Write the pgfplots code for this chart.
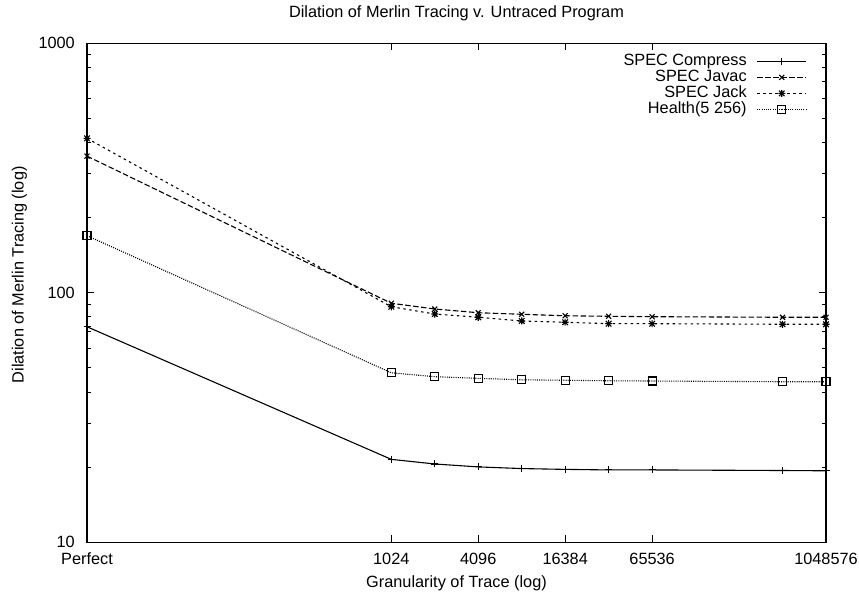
\documentclass[border=0pt]{standalone}
\usepackage{fontspec}
\setmainfont{Liberation Sans}
\usepackage{pgfplots}
\pgfplotsset{compat=1.18}
\pgfdeclareplotmark{gpstar}{%
  \pgfpathmoveto{\pgfqpoint{-\pgfplotmarksize}{0pt}}\pgfpathlineto{\pgfqpoint{\pgfplotmarksize}{0pt}}%
  \pgfpathmoveto{\pgfqpoint{0pt}{-\pgfplotmarksize}}\pgfpathlineto{\pgfqpoint{0pt}{\pgfplotmarksize}}%
  \pgfpathmoveto{\pgfqpoint{-0.8\pgfplotmarksize}{-0.8\pgfplotmarksize}}\pgfpathlineto{\pgfqpoint{0.8\pgfplotmarksize}{0.8\pgfplotmarksize}}%
  \pgfpathmoveto{\pgfqpoint{-0.8\pgfplotmarksize}{0.8\pgfplotmarksize}}\pgfpathlineto{\pgfqpoint{0.8\pgfplotmarksize}{-0.8\pgfplotmarksize}}%
  \pgfusepathqstroke}
\begin{document}
\begin{tikzpicture}[font=\fontsize{16.3}{19.5}\selectfont]
\useasboundingbox (0,0) rectangle (859pt,593pt);
\begin{axis}[
  at={(87pt,50.7pt)}, anchor=south west,
  scale only axis, width=739pt, height=499pt,
  xmode=log, ymode=log,
  xmin=8, xmax=1048576, ymin=10, ymax=1000,
  xtick={8,1024,4096,16384,65536,1048576},
  xticklabels={Perfect,1024,4096,16384,65536,1048576},
  ytick={10,100,1000},
  yticklabels={10,100,1000},
  xminorticks=false,
  /pgf/number format/assume math mode=true,
  axis line style={line width=1.2pt},
  tick style={line width=1pt, black},
  major tick length=7pt, minor tick length=4pt,
  tick align=inside,
  xticklabel style={anchor=base, inner sep=0pt, yshift=-22.7pt},
  yticklabel style={anchor=east, inner sep=0pt, xshift=-12pt},
  title={Dilation of Merlin Tracing v. Untraced Program},
  title style={at={([yshift=19.8pt]axis description cs:0.5,1)}, anchor=base, inner sep=0pt},
  xlabel={Granularity of Trace (log)},
  xlabel style={at={([yshift=-45.7pt]axis description cs:0.5,0)}, anchor=base, inner sep=0pt},
  ylabel={Dilation of Merlin Tracing (log)},
  ylabel style={at={([xshift=-63.5pt]axis description cs:0,0.536)}, anchor=base, inner sep=0pt},
  legend plot pos=right,
  legend cell align=right,
  legend style={draw=none, fill=none, at={(rel axis cs:1,1)}, anchor=north east,
    xshift=-19pt, yshift=-9.9pt, inner sep=0pt, row sep=0pt, column sep=10pt,
    nodes={inner sep=0pt, text height=12.5pt, text depth=3.5pt}},
  legend image code/.code={\draw[mark repeat=2,mark phase=2,#1] plot coordinates {(0pt,0pt) (24.5pt,0pt) (49pt,0pt)};},
]
\addplot[black, line width=1.1pt, mark=+, mark size=3.5pt, mark options={solid}] coordinates {
(8,73.1) (1024,21.5) (2048,20.6) (4096,20.05) (8192,19.75) (16384,19.6) (32768,19.5) (65536,19.5) (524288,19.4) (1048576,19.35)};
\addlegendentry{SPEC Compress}
\addplot[black, line width=1.1pt, dash pattern=on 5.5pt off 2.5pt, mark=x, mark size=3.5pt, mark options={solid}] coordinates {
(8,353) (1024,90.8) (2048,86.1) (4096,83.2) (8192,82.0) (16384,80.9) (32768,80.5) (65536,80.2) (524288,79.8) (1048576,79.8)};
\addlegendentry{SPEC Javac}
\addplot[black, line width=1.1pt, dash pattern=on 2.5pt off 3.5pt, mark=gpstar, mark size=3.5pt, mark options={solid}] coordinates {
(8,416) (1024,87.9) (2048,82.2) (4096,79.8) (8192,77.1) (16384,76.2) (32768,75.2) (65536,75.2) (524288,74.8) (1048576,74.8)};
\addlegendentry{SPEC Jack}
\addplot[black, line width=1.1pt, dash pattern=on 1pt off 1.2pt, mark=square, mark size=4pt, mark options={solid}] coordinates {
(8,169.4) (1024,47.8) (2048,46.1) (4096,45.4) (8192,44.8) (16384,44.6) (32768,44.4) (65536,44.3) (524288,44.0) (1048576,44.0)};
\addlegendentry{Health(5 256)}
\end{axis}
\end{tikzpicture}
\end{document}
